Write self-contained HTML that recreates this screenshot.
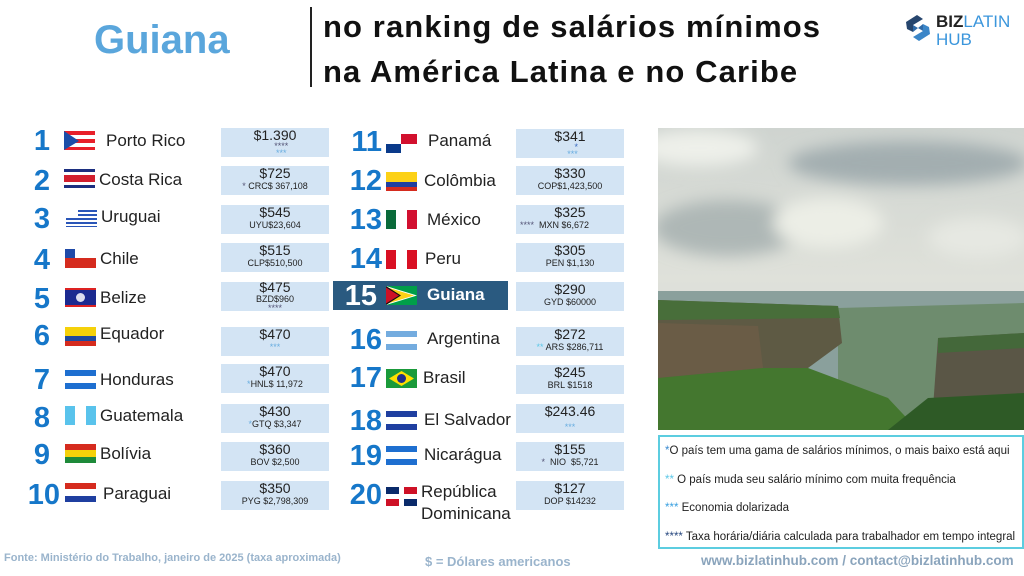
<!DOCTYPE html>
<html><head><meta charset="utf-8"><style>
body{margin:0;width:1024px;height:576px;background:#fff;position:relative;overflow:hidden;font-family:"Liberation Sans","DejaVu Sans",sans-serif;color:#222}
.a{position:absolute}
.rk{position:absolute;color:#1677c9;font-weight:bold;font-size:29px;line-height:30px;text-align:right}
.nm{position:absolute;font-size:17px;line-height:20px;color:#222}
.bx{position:absolute;width:108px;height:29px;background:#d3e4f4;text-align:center;color:#222}
.bx .v{font-size:14px;line-height:15px;margin-top:0px}
.bx .s{font-size:9px;line-height:10px}
.st{color:#6aaee0}
.fl{position:absolute;width:31px;height:19px;overflow:hidden}
</style></head><body>
<div class="a" style="left:94px;top:18px;font-size:40px;font-weight:bold;color:#5aa6dc">Guiana</div>
<div class="a" style="left:310px;top:7px;width:2px;height:80px;background:#222"></div>
<div class="a" style="left:323px;top:4px;font-size:31px;letter-spacing:1.1px;font-weight:bold;line-height:45px;color:#111;white-space:nowrap">no ranking de salários mínimos<br>na América Latina e no Caribe</div>
<svg class="a" style="left:903px;top:12px" width="30" height="32" viewBox="0 0 30 32"><path d="M3 10 L14 3 L20 7 L10 13 L10 20 L4 17 Z" fill="#27466e"/><path d="M27 22 L16 29 L10 25 L20 19 L20 12 L26 15 Z" fill="#3b86c8"/><path d="M10 13 L20 19 L20 12 L10 20Z" fill="#2f6aa8"/></svg>
<div class="a" style="left:936px;top:13px;font-size:17px;font-weight:bold;line-height:18px;color:#222">BIZ<span style="font-weight:normal;color:#3b96dc">LATIN</span><br><span style="font-weight:normal;color:#3b96dc">HUB</span></div>

<div class="rk" style="left:20px;top:126px;width:30px">1</div>
<div class="fl" style="left:64px;top:131px;background:repeating-linear-gradient(#e8202a 0 4px,#fff 4px 8px)"><div style="width:0;height:0;border-top:10px solid transparent;border-bottom:9px solid transparent;border-left:15px solid #1c4ea8"></div></div>
<div class="nm" style="left:106px;top:131px">Porto Rico</div>
<div class="bx" style="left:221px;top:128px"><div class="v">$1.390</div><div class="s" style="line-height:7px">&nbsp;&nbsp;&nbsp;&nbsp;&nbsp;<span style="color:#557">****</span><br>&nbsp;&nbsp;&nbsp;&nbsp;&nbsp;<span class="st">***</span></div></div>

<div class="rk" style="left:20px;top:166px;width:30px">2</div>
<div class="fl" style="left:64px;top:169px;background:linear-gradient(#1c2f80 0 3px,#fff 3px 6px,#d21f2e 6px 13px,#fff 13px 16px,#1c2f80 16px)"></div>
<div class="nm" style="left:99px;top:170px">Costa Rica</div>
<div class="bx" style="left:221px;top:166px"><div class="v">$725</div><div class="s"><span style="color:#557">*</span> CRC$ 367,108</div></div>

<div class="rk" style="left:20px;top:204px;width:30px">3</div>
<div class="fl" style="left:66px;top:208px;background:repeating-linear-gradient(#fff 0 2px,#2a56b8 2px 4px)"><div style="width:12px;height:10px;background:#fff"></div></div>
<div class="nm" style="left:101px;top:207px">Uruguai</div>
<div class="bx" style="left:221px;top:205px"><div class="v">$545</div><div class="s">UYU$23,604</div></div>

<div class="rk" style="left:20px;top:245px;width:30px">4</div>
<div class="fl" style="left:65px;top:249px;background:linear-gradient(#fff 0 9px,#d52b1e 9px)"><div style="width:10px;height:9px;background:#1f4aa8"></div></div>
<div class="nm" style="left:100px;top:249px">Chile</div>
<div class="bx" style="left:221px;top:243px"><div class="v">$515</div><div class="s">CLP$510,500</div></div>

<div class="rk" style="left:20px;top:284px;width:30px">5</div>
<div class="fl" style="left:65px;top:288px;background:linear-gradient(#d22 0 2px,#1c2a90 2px 17px,#d22 17px)"><div style="margin:5px 11px;width:9px;height:9px;border-radius:50%;background:#dde"></div></div>
<div class="nm" style="left:100px;top:288px">Belize</div>
<div class="bx" style="left:221px;top:282px"><div class="v" style="margin-top:-2px">$475</div><div class="s" style="line-height:9px">BZD$960<br><span style="color:#557">****</span></div></div>

<div class="rk" style="left:20px;top:321px;width:30px">6</div>
<div class="fl" style="left:65px;top:327px;background:linear-gradient(#f5d10a 0 9px,#1f4aa0 9px 14px,#d52b1e 14px)"></div>
<div class="nm" style="left:100px;top:324px">Equador</div>
<div class="bx" style="left:221px;top:327px"><div class="v">$470</div><div class="s st">***</div></div>

<div class="rk" style="left:20px;top:365px;width:30px">7</div>
<div class="fl" style="left:65px;top:370px;background:linear-gradient(#1e6fd0 0 6px,#fff 6px 13px,#1e6fd0 13px)"></div>
<div class="nm" style="left:100px;top:370px">Honduras</div>
<div class="bx" style="left:221px;top:364px"><div class="v">$470</div><div class="s"><span class="st">*</span>HNL$ 11,972</div></div>

<div class="rk" style="left:20px;top:403px;width:30px">8</div>
<div class="fl" style="left:65px;top:406px;background:linear-gradient(90deg,#59c3ec 0 10px,#fff 10px 21px,#59c3ec 21px)"></div>
<div class="nm" style="left:100px;top:406px">Guatemala</div>
<div class="bx" style="left:221px;top:404px"><div class="v">$430</div><div class="s"><span class="st">*</span>GTQ $3,347</div></div>

<div class="rk" style="left:20px;top:440px;width:30px">9</div>
<div class="fl" style="left:65px;top:444px;background:linear-gradient(#d52b1e 0 6px,#f5d10a 6px 13px,#1e8a3a 13px)"></div>
<div class="nm" style="left:100px;top:444px">Bolívia</div>
<div class="bx" style="left:221px;top:442px"><div class="v">$360</div><div class="s">BOV $2,500</div></div>

<div class="rk" style="left:14px;top:480px;width:46px">10</div>
<div class="fl" style="left:65px;top:483px;background:linear-gradient(#d52b1e 0 6px,#fff 6px 13px,#1f3fa0 13px)"></div>
<div class="nm" style="left:103px;top:484px">Paraguai</div>
<div class="bx" style="left:221px;top:481px"><div class="v">$350</div><div class="s">PYG $2,798,309</div></div>

<div class="rk" style="left:338px;top:127px;width:44px">11</div>
<div class="fl" style="left:386px;top:134px;background:linear-gradient(90deg,#fff 0 15px,#d2102e 15px);"><div style="position:absolute;top:10px;width:15px;height:9px;background:#0a3a8a"></div><div style="position:absolute;top:10px;left:15px;width:16px;height:9px;background:#fff"></div></div>
<div class="nm" style="left:428px;top:131px">Panamá</div>
<div class="bx" style="left:516px;top:129px"><div class="v">$341</div><div class="s" style="line-height:7px">&nbsp;&nbsp;&nbsp;&nbsp;&nbsp;<span style="color:#3a6ac0">*</span><br>&nbsp;&nbsp;<span class="st">***</span></div></div>

<div class="rk" style="left:338px;top:166px;width:44px">12</div>
<div class="fl" style="left:386px;top:172px;background:linear-gradient(#fcd116 0 10px,#1f3fa0 10px 15px,#d52b1e 15px)"></div>
<div class="nm" style="left:424px;top:171px">Colômbia</div>
<div class="bx" style="left:516px;top:166px"><div class="v">$330</div><div class="s">COP$1,423,500</div></div>

<div class="rk" style="left:338px;top:205px;width:44px">13</div>
<div class="fl" style="left:386px;top:210px;background:linear-gradient(90deg,#0a6a3a 0 10px,#fff 10px 21px,#d21030 21px)"></div>
<div class="nm" style="left:427px;top:210px">México</div>
<div class="bx" style="left:516px;top:205px"><div class="v">$325</div><div class="s" style="text-align:left;padding-left:4px"><span style="color:#557">****</span>&nbsp;&nbsp;MXN $6,672</div></div>

<div class="rk" style="left:338px;top:244px;width:44px">14</div>
<div class="fl" style="left:386px;top:250px;background:linear-gradient(90deg,#d91023 0 10px,#fff 10px 21px,#d91023 21px)"></div>
<div class="nm" style="left:425px;top:249px">Peru</div>
<div class="bx" style="left:516px;top:243px"><div class="v">$305</div><div class="s">PEN $1,130</div></div>

<div class="a" style="left:333px;top:281px;width:175px;height:29px;background:#2a5a80"></div>
<div class="rk" style="left:333px;top:281px;width:44px;color:#fff">15</div>
<svg class="a" style="left:386px;top:286px" width="31" height="19"><rect width="31" height="19" fill="#009e49"/><path d="M0 0 L31 9.5 L0 19Z" fill="#fff"/><path d="M0 1 L28 9.5 L0 18Z" fill="#fcd116"/><path d="M0 0 L15 9.5 L0 19Z" fill="#111"/><path d="M0 1.5 L13 9.5 L0 17.5Z" fill="#ce1126"/></svg>
<div class="nm" style="left:427px;top:285px;color:#fff;font-weight:bold">Guiana</div>
<div class="bx" style="left:516px;top:282px"><div class="v">$290</div><div class="s">GYD $60000</div></div>

<div class="rk" style="left:338px;top:325px;width:44px">16</div>
<div class="fl" style="left:386px;top:331px;background:linear-gradient(#74acdf 0 6px,#fff 6px 13px,#74acdf 13px)"></div>
<div class="nm" style="left:427px;top:329px">Argentina</div>
<div class="bx" style="left:516px;top:327px"><div class="v">$272</div><div class="s"><span style="color:#5cc8e8">**</span> ARS $286,711</div></div>

<div class="rk" style="left:338px;top:363px;width:44px">17</div>
<svg class="a" style="left:386px;top:369px" width="31" height="19"><rect width="31" height="19" fill="#1a9a3a"/><path d="M3 9.5 L15.5 2 L28 9.5 L15.5 17Z" fill="#fedf00"/><circle cx="15.5" cy="9.5" r="4.5" fill="#1f2f8a"/></svg>
<div class="nm" style="left:423px;top:368px">Brasil</div>
<div class="bx" style="left:516px;top:365px"><div class="v">$245</div><div class="s">BRL $1518</div></div>

<div class="rk" style="left:338px;top:406px;width:44px">18</div>
<div class="fl" style="left:386px;top:411px;background:linear-gradient(#1f3fa0 0 6px,#fff 6px 13px,#1f3fa0 13px)"></div>
<div class="nm" style="left:424px;top:410px">El Salvador</div>
<div class="bx" style="left:516px;top:404px"><div class="v">$243.46</div><div class="s st" style="margin-top:3px">***</div></div>

<div class="rk" style="left:338px;top:441px;width:44px">19</div>
<div class="fl" style="left:386px;top:446px;background:linear-gradient(#1e6fd0 0 6px,#fff 6px 13px,#1e6fd0 13px)"></div>
<div class="nm" style="left:424px;top:445px">Nicarágua</div>
<div class="bx" style="left:516px;top:442px"><div class="v">$155</div><div class="s"><span style="color:#557">*</span>&nbsp; NIO&nbsp; $5,721</div></div>

<div class="rk" style="left:338px;top:480px;width:44px">20</div>
<svg class="a" style="left:386px;top:487px" width="31" height="19"><rect width="31" height="19" fill="#fff"/><rect width="13" height="7" fill="#0a2a6a"/><rect x="18" width="13" height="7" fill="#ce1126"/><rect y="12" width="13" height="7" fill="#ce1126"/><rect x="18" y="12" width="13" height="7" fill="#0a2a6a"/></svg>
<div class="nm" style="left:421px;top:481px;line-height:22px">República<br>Dominicana</div>
<div class="bx" style="left:516px;top:481px"><div class="v">$127</div><div class="s">DOP $14232</div></div>

<svg class="a" style="left:658px;top:128px" width="366" height="302" viewBox="0 0 366 302">
<defs><linearGradient id="sk" x1="0" y1="0" x2="0" y2="1"><stop offset="0" stop-color="#cfd4d0"/><stop offset="0.5" stop-color="#dfe1da"/><stop offset="1" stop-color="#cdd3d4"/></linearGradient>
<filter id="bl"><feGaussianBlur stdDeviation="8"/></filter></defs>
<rect width="366" height="302" fill="url(#sk)"/>
<g filter="url(#bl)">
<ellipse cx="250" cy="35" rx="120" ry="22" fill="#a3aeb0"/>
<ellipse cx="70" cy="100" rx="75" ry="28" fill="#aeb7b6"/>
<ellipse cx="170" cy="95" rx="55" ry="25" fill="#eceee6"/>
<ellipse cx="40" cy="20" rx="60" ry="18" fill="#eef0ea"/>
<ellipse cx="320" cy="110" rx="50" ry="20" fill="#e6e8e2"/>
</g>
<rect y="163" width="366" height="139" fill="#8aa09c"/>
<path d="M180 180 L366 175 L366 302 L180 302Z" fill="#6e8c6e"/>
<path d="M0 172 L180 178 L184 215 L150 240 L120 302 L0 302Z" fill="#5e5a44"/>
<path d="M0 172 L180 178 L182 190 L0 192Z" fill="#486e3a"/>
<path d="M0 195 L100 198 L105 240 L0 250Z" fill="#6a5c46"/>
<path d="M0 250 L105 240 L150 240 L230 270 L260 302 L0 302Z" fill="#44772f"/>
<path d="M280 210 L366 205 L366 280 L275 280Z" fill="#5a5646"/>
<path d="M280 210 L366 205 L366 220 L280 225Z" fill="#44683a"/>
<path d="M230 302 L270 270 L366 265 L366 302Z" fill="#2e5a26"/>
</svg>

<div class="a" style="left:658px;top:435px;width:362px;height:110px;border:2px solid #5ccde0"></div>
<div class="a" style="left:665px;top:437px;font-size:11.5px;line-height:28.7px;color:#222;white-space:nowrap"><span style="color:#3a8ad0">*</span>O país tem uma gama de salários mínimos, o mais baixo está aqui<br><span style="color:#5cc8e8">**</span> O país muda seu salário mínimo com muita frequência<br><span style="color:#3aa0e0">***</span> Economia dolarizada<br><span style="color:#2a4a80">****</span> Taxa horária/diária calculada para trabalhador em tempo integral</div>

<div class="a" style="left:4px;top:552px;font-size:11px;font-weight:bold;color:#9ab4cc">Fonte: Ministério do Trabalho, janeiro de 2025 (taxa aproximada)</div>
<div class="a" style="left:425px;top:554px;font-size:13px;font-weight:bold;color:#9ab4cc">$ = Dólares americanos</div>
<div class="a" style="left:701px;top:553px;font-size:13.5px;font-weight:bold;color:#8aa4bc;white-space:nowrap">www.bizlatinhub.com / contact@bizlatinhub.com</div>
</body></html>
